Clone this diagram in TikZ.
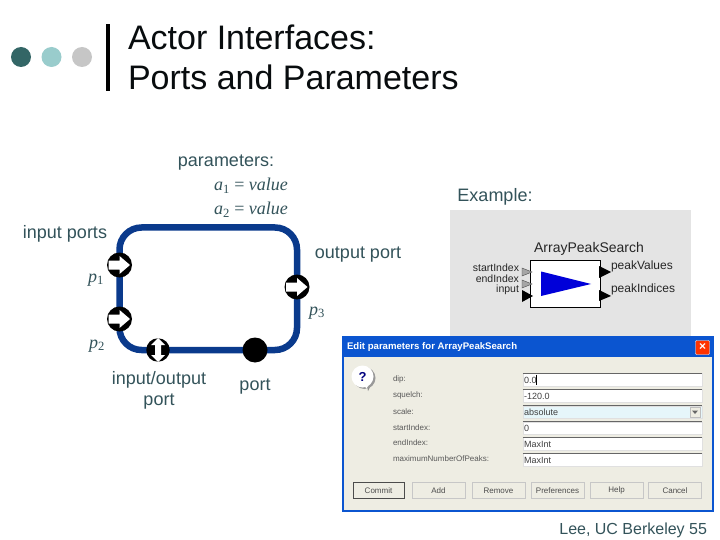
\documentclass[tikz,border=0pt]{standalone}
\usepackage{fontspec}
\setmainfont{Liberation Sans}
\newfontfamily\serifit[Ligatures=TeX]{Liberation Serif}
\definecolor{slatetxt}{HTML}{33535A}
\definecolor{loopblue}{HTML}{0A3A8C}
\definecolor{dotA}{HTML}{336666}
\definecolor{dotB}{HTML}{99CCCC}
\definecolor{dotC}{HTML}{C6C6C6}
\definecolor{dlgbody}{HTML}{EEEDE3}
\definecolor{dlgblue}{HTML}{0B55D0}
\definecolor{iconbg}{HTML}{E4E4E4}
\definecolor{fieldblue}{HTML}{E6F6FA}
\tikzset{
  x=1pt,y=-1pt,
  plain/.style={inner sep=0pt,outer sep=0pt},
  titletxt/.style={plain,anchor=west,font=\fontsize{34}{36}\selectfont,text=black!85!slatetxt},
  lbl/.style={plain,font=\fontsize{18}{21}\selectfont,text=slatetxt,align=center},
  mathlbl/.style={plain,font=\fontsize{18}{20}\selectfont\serifit\itshape,text=slatetxt},
  portdot/.style={circle,fill=black,minimum size=25pt,inner sep=0pt},
  dot/.style={circle,minimum size=20pt,inner sep=0pt},
  field/.style={draw=black!12,line width=.5pt,fill=white,minimum width=179pt,minimum height=12.5pt,inner sep=0pt,anchor=center},
  fieldtxt/.style={plain,anchor=west,font=\fontsize{9}{10}\selectfont,text=black!75},
  dlglbl/.style={plain,anchor=west,font=\fontsize{8}{9}\selectfont,text=black!65},
  btn/.style={draw=black!22,fill=dlgbody,minimum width=53pt,minimum height=16pt,inner sep=0pt,font=\fontsize{8}{9}\selectfont,text=black!70},
  iconlbl/.style={plain,font=\fontsize{12}{13}\selectfont,text=black!85},
  iconport/.style={plain,font=\fontsize{10.5}{11}\selectfont,text=black!85,anchor=east}
}
\newcommand{\subup}[1]{\textsubscript{\upshape #1}}
\newcommand{\arrowR}[1]{\fill[white] ([shift={(-11,-4.5)}]#1.center) -- ([shift={(0,-4.5)}]#1.center) -- ([shift={(0,-9)}]#1.center) -- ([shift={(10.5,0)}]#1.center) -- ([shift={(0,9)}]#1.center) -- ([shift={(0,4.5)}]#1.center) -- ([shift={(-11,4.5)}]#1.center) -- cycle;}
\begin{document}
\begin{tikzpicture}
\useasboundingbox (0,0) rectangle (720,540);
\fill[white] (0,0) rectangle (720,540);
% header
\node[dot,fill=dotA] (d1) at (21,57) {};
\node[dot,fill=dotB] (d2) at (51.5,57) {};
\node[dot,fill=dotC] (d3) at (82,57) {};
\fill[black] (106,24) rectangle (110,91);
\node[titletxt] (t1) at (128,37) {Actor Interfaces:};
\node[titletxt] (t2) at (128,77) {Ports and Parameters};
% labels
\node[lbl] (params) at (226,162.5) {parameters:};
\node[mathlbl] (a1) at (251,186) {a\subup{1} {\upshape=} value};
\node[mathlbl] (a2) at (251,210) {a\subup{2} {\upshape=} value};
\node[lbl] (example) at (495,197) {Example:};
\node[lbl] (inp) at (65,234) {input ports};
\node[lbl] (outp) at (358,254.5) {output port};
\node[mathlbl] (p1) at (96,280) {p\subup{1}};
\node[mathlbl] (p2) at (97,346) {p\subup{2}};
\node[mathlbl] (p3) at (317,313) {p\subup{3}};
\node[lbl] (iolbl) at (159,390.5) {input/output\\port};
\node[lbl] (portlbl) at (255,387) {port};
% actor
\draw[loopblue,line width=6.5pt,rounded corners=22pt] (119.5,227.5) rectangle (297,350);
\node[portdot] (P1) at (119.5,265) {};
\node[portdot] (P2) at (119.5,319) {};
\node[portdot] (P3) at (297,287) {};
\node[portdot,minimum size=23.5pt] (IO) at (158,350) {};
\node[portdot] (PT) at (255,350) {};
\arrowR{P1}
\arrowR{P2}
\arrowR{P3}
\fill[white] ([shift={(0,-12)}]IO.center) -- ([shift={(7,-5)}]IO.center) -- ([shift={(3,-5)}]IO.center) -- ([shift={(3,5)}]IO.center) -- ([shift={(7,5)}]IO.center) -- ([shift={(0,12)}]IO.center) -- ([shift={(-7,5)}]IO.center) -- ([shift={(-3,5)}]IO.center) -- ([shift={(-3,-5)}]IO.center) -- ([shift={(-7,-5)}]IO.center) -- cycle;
% example image
\fill[iconbg] (450,210) rectangle (691,337);
\node[draw=black,fill=white,line width=.8pt,minimum width=70.5pt,minimum height=47pt,inner sep=0pt] (blk) at (565.5,283.5) {};
\fill[blue!85!black] (541,271.5) -- (591,284) -- (541,296) -- cycle;
\node[iconlbl,font=\fontsize{14}{15}\selectfont] (apsname) at (589,249) {ArrayPeakSearch};
\node[iconport] (si) at (519,267.5) {startIndex};
\node[iconport] (ei) at (519,279) {endIndex};
\node[iconport] (ii) at (519,290) {input};
\node[iconlbl,anchor=west] (pv) at (611,266) {peakValues};
\node[iconlbl,anchor=west] (pi) at (611,289) {peakIndices};
\draw[fill=black!35,draw=black!70] (522,268) -- (532,272) -- (522,276) -- cycle;
\draw[fill=black!35,draw=black!70] (522,280) -- (532,284) -- (522,288) -- cycle;
\fill[black] (522,290) -- (533,296) -- (522,302) -- cycle;
\fill[black] (599,266) -- (611,272) -- (599,278) -- cycle;
\fill[black] (599,290) -- (611,296) -- (599,301) -- cycle;
% dialog
\fill[dlgblue] (342,336) rectangle (714,511.5);
\fill[dlgbody] (344,357) rectangle (712,509.5);
\node[plain,anchor=west,text=white,font=\bfseries\fontsize{9.6}{11}\selectfont] (dlgt) at (347,347.5) {Edit parameters for ArrayPeakSearch};
\node[draw=white,fill=red!60!orange,minimum size=14pt,inner sep=0pt,text=white,font=\bfseries\fontsize{12}{12}\selectfont,rounded corners=1pt] (cl) at (702.5,347.5) {×};
\fill[black!45] (367,385) -- (368,391) -- (372,383) -- cycle;
\fill[black!40] (364.5,378) circle[radius=11];
\fill[white] (365,385) -- (366,389) -- (370,383) -- cycle;
\node[circle,fill=white,inner sep=0pt,font=\bfseries\fontsize{13}{13}\selectfont,text=blue!50!black,minimum size=22pt] (q) at (362.5,376.5) {?};
\node[dlglbl] (l1) at (393,379.5) {dip:};
\node[dlglbl] (l2) at (393,395.5) {squelch:};
\node[dlglbl] (l3) at (393,411.5) {scale:};
\node[dlglbl] (l4) at (393,427.5) {startIndex:};
\node[dlglbl] (l5) at (393,442.5) {endIndex:};
\node[dlglbl] (l6) at (393,458.5) {maximumNumberOfPeaks:};
\node[field] (f1) at (612.5,379.5) {};
\node[field] (f2) at (612.5,395.5) {};
\node[field,fill=fieldblue] (f3) at (612.5,412) {};
\node[field] (f4) at (612.5,428) {};
\node[field] (f5) at (612.5,443.5) {};
\node[field] (f6) at (612.5,459.5) {};
\foreach \ff in {f1,f2,f3,f4,f5,f6}
  \draw[black!60,line width=.8pt] (\ff.north west) -- (\ff.north east);
\node[fieldtxt] at (524,380) (v1) {0.0};
\draw[black,line width=.6pt] (536,374.5) -- (536,384.5);
\node[fieldtxt] at (524,396) (v2) {-120.0};
\node[fieldtxt] at (524,412.5) (v3) {absolute};
\node[fieldtxt] at (524,428.5) (v4) {0};
\node[fieldtxt] at (524,444) (v5) {MaxInt};
\node[fieldtxt] at (524,460) (v6) {MaxInt};
\node[draw=black!25,fill=dlgbody,minimum size=10pt,inner sep=0pt] (dd) at (695,412) {};
\fill[black!60] ([shift={(-3,-1.5)}]dd.center) -- ([shift={(3,-1.5)}]dd.center) -- ([shift={(0,2)}]dd.center) -- cycle;
\node[btn,draw=black!70,minimum width=51pt] (b1) at (378.5,490.5) {Commit};
\node[btn] (b2) at (438.5,490.5) {Add};
\node[btn] (b3) at (498.5,490.5) {Remove};
\node[btn] (b4) at (557.5,490.5) {Preferences};
\node[btn] (b5) at (616.5,490.5) {Help};
\node[btn] (b6) at (675,490.5) {Cancel};
% footer
\node[plain,anchor=east,font=\fontsize{16}{18}\selectfont,text=slatetxt] (foot) at (707,530) {Lee, UC Berkeley 55};
\end{tikzpicture}
\end{document}
